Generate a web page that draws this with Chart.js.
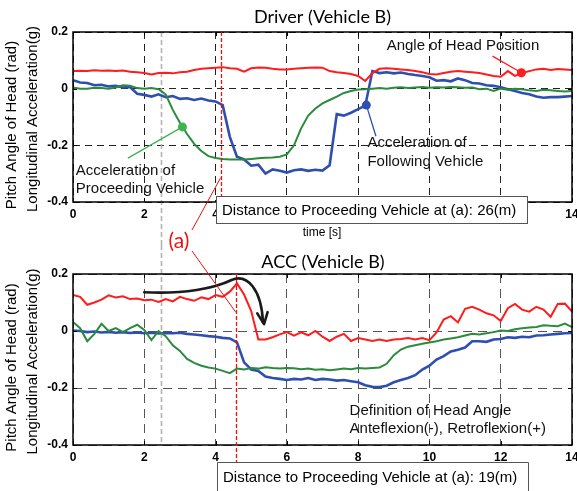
<!DOCTYPE html>
<html><head><meta charset="utf-8">
<script src="https://cdn.jsdelivr.net/npm/chart.js@4"></script>
<style>
html,body{margin:0;padding:0;background:#fff;}
#wrap{position:relative;width:577px;height:491px;overflow:hidden;background:#fff;}
canvas{position:absolute;left:0;}
</style></head><body>
<div id="wrap">
<canvas id="c1" width="577" height="245" style="top:0"></canvas>
<canvas id="c2" width="577" height="246" style="top:245px"></canvas>
<canvas id="ov" width="577" height="491" style="top:0;pointer-events:none"></canvas>
</div>
<script>
// ---- data ----
const time = [0,0.2,0.4,0.6,0.8,1,1.2,1.4,1.6,1.8,2,2.2,2.4,2.6,2.8,3,3.2,3.4,3.6,3.8,4,4.2,4.4,4.6,4.8,5,5.2,5.4,5.6,5.8,6,6.2,6.4,6.6,6.8,7,7.2,7.4,7.6,7.8,8,8.2,8.4,8.6,8.8,9,9.2,9.4,9.6,9.8,10,10.2,10.4,10.6,10.8,11,11.2,11.4,11.6,11.8,12,12.2,12.4,12.6,12.8,13,13.2,13.4,13.6,13.8,14];
const xTicks = [0,2,4,6,8,10,12,14];
const yTicks = [-0.4,-0.2,0,0.2];
const yTickLabels = ['-0.4','-0.2','0','0.2'];

// Driver (Vehicle B)
const driverHead = [0.062,0.063,0.062,0.065,0.063,0.064,0.062,0.064,0.060,0.058,0.055,0.050,0.055,0.056,0.054,0.058,0.060,0.066,0.070,0.072,0.074,0.076,0.072,0.070,0.060,0.072,0.075,0.074,0.070,0.068,0.068,0.070,0.072,0.074,0.075,0.074,0.062,0.058,0.055,0.052,0.045,0.027,0.055,0.070,0.072,0.070,0.068,0.066,0.062,0.058,0.052,0.050,0.055,0.060,0.062,0.060,0.058,0.055,0.050,0.045,0.042,0.062,0.045,0.055,0.062,0.068,0.070,0.066,0.069,0.068,0.066];
const driverProceeding = [0.004,0.000,0.000,0.003,0.002,0.000,0.004,0.012,0.010,0.002,0.000,0.002,-0.002,-0.020,-0.075,-0.120,-0.160,-0.195,-0.220,-0.238,-0.245,-0.248,-0.250,-0.250,-0.250,-0.248,-0.246,-0.244,-0.243,-0.240,-0.232,-0.200,-0.140,-0.095,-0.070,-0.052,-0.040,-0.028,-0.015,-0.008,-0.003,-0.002,0.000,0.002,0.000,0.003,0.005,0.002,0.004,0.006,0.003,0.005,0.004,0.006,0.005,0.003,0.004,-0.002,0.000,-0.008,0.000,-0.004,0.000,-0.002,-0.006,-0.008,-0.004,-0.006,-0.008,-0.010,-0.008];
const driverFollowing = [0.030,0.022,0.020,0.012,0.014,0.008,0.010,0.004,0.006,-0.018,-0.022,-0.028,-0.020,-0.030,-0.026,-0.036,-0.034,-0.040,-0.035,-0.042,-0.045,-0.058,-0.170,-0.240,-0.250,-0.272,-0.268,-0.300,-0.285,-0.290,-0.296,-0.288,-0.285,-0.290,-0.286,-0.289,-0.270,-0.090,-0.095,-0.085,-0.072,-0.060,0.062,0.055,0.058,0.054,0.057,0.052,0.048,0.045,0.040,0.028,0.030,0.026,0.036,0.030,0.020,0.018,0.012,0.010,0.005,-0.002,-0.008,-0.015,-0.020,-0.028,-0.032,-0.030,-0.030,-0.028,-0.026];

// ACC (Vehicle B)
const accHead = [0.126,0.120,0.092,0.100,0.110,0.125,0.118,0.122,0.112,0.114,0.108,0.110,0.102,0.112,0.104,0.120,0.112,0.106,0.118,0.112,0.126,0.120,0.138,0.167,0.128,0.070,-0.030,-0.030,-0.022,-0.012,-0.004,-0.016,-0.005,-0.015,0.000,-0.020,-0.035,-0.020,-0.010,-0.035,-0.025,-0.030,-0.035,-0.030,-0.035,-0.030,-0.028,-0.025,-0.030,-0.025,-0.032,-0.005,0.040,0.052,0.030,0.078,0.085,0.075,0.062,0.055,0.035,0.080,0.095,0.075,0.068,0.085,0.075,0.050,0.095,0.096,0.068];
const accProceeding = [0.032,0.010,-0.036,-0.010,0.025,0.000,0.010,-0.004,0.010,0.022,0.004,-0.032,0.000,-0.018,-0.050,-0.070,-0.098,-0.112,-0.122,-0.128,-0.132,-0.140,-0.148,-0.132,-0.135,-0.130,-0.132,-0.127,-0.130,-0.132,-0.130,-0.131,-0.134,-0.132,-0.136,-0.134,-0.138,-0.135,-0.132,-0.134,-0.130,-0.132,-0.130,-0.128,-0.115,-0.085,-0.065,-0.055,-0.050,-0.045,-0.040,-0.036,-0.030,-0.026,-0.022,-0.016,-0.010,-0.012,-0.008,-0.004,0.002,0.000,0.006,0.010,0.012,0.014,0.020,0.018,0.017,0.026,0.014];
const accFollowing = [0.002,0.000,-0.004,-0.002,-0.005,-0.003,-0.006,-0.004,-0.007,-0.005,-0.008,-0.006,-0.009,-0.007,-0.008,-0.006,-0.010,-0.012,-0.015,-0.018,-0.020,-0.024,-0.026,-0.040,-0.110,-0.135,-0.140,-0.160,-0.165,-0.168,-0.172,-0.168,-0.170,-0.165,-0.172,-0.168,-0.170,-0.174,-0.172,-0.176,-0.180,-0.190,-0.196,-0.197,-0.192,-0.180,-0.172,-0.165,-0.155,-0.135,-0.122,-0.100,-0.088,-0.072,-0.066,-0.058,-0.036,-0.036,-0.038,-0.030,-0.028,-0.022,-0.024,-0.020,-0.022,-0.016,-0.015,-0.012,-0.010,-0.008,-0.007];

const COL_RED = '#ff1c1c', COL_GREEN = '#2b8a3c', COL_BLUE = '#2f4fae', COL_GREEN_MK = '#3fb34f';
const GRAY_T = 2.46;
const FONT = '"Liberation Sans", Arial, sans-serif';
const TFONT = 'Lato, "Open Sans", sans-serif';

function pts(vals){ return vals.map((v,i)=>({x:time[i], y:v})); }

function text(ctx, s, x, y, font, color, align){
  ctx.font = font; ctx.fillStyle = color; ctx.textAlign = align || 'left'; ctx.textBaseline = 'middle';
  ctx.fillText(s, x, y);
}

function makePlugin(spec){
  return {
    id: 'deco_' + spec.name,
    beforeDatasetsDraw(chart){
      const {ctx, chartArea:a, scales:{x}} = chart;
      ctx.save();
      ctx.strokeStyle = '#b4b4b4'; ctx.lineWidth = 1.6; ctx.setLineDash([5,3]);
      const gx = Math.round(x.getPixelForValue(GRAY_T)) + 0.5;
      ctx.beginPath(); ctx.moveTo(gx, spec.grayTop(a, chart)); ctx.lineTo(gx, spec.grayBottom(a, chart)); ctx.stroke();
      ctx.restore();
    },
    afterDraw(chart){
      const {ctx, chartArea:a, scales:{x, y}} = chart;
      const P = (t, v) => [x.getPixelForValue(t), y.getPixelForValue(v)];
      ctx.save();
      // frame
      ctx.setLineDash([]);
      ctx.strokeStyle = '#000'; ctx.lineWidth = 1.5;
      ctx.strokeRect(a.left, a.top, a.right - a.left, a.bottom - a.top);
      // inward tick marks
      ctx.lineWidth = 1;
      xTicks.forEach(t => { const px = Math.round(x.getPixelForValue(t)) + 0.5;
        ctx.beginPath(); ctx.moveTo(px, a.bottom); ctx.lineTo(px, a.bottom - 4); ctx.moveTo(px, a.top); ctx.lineTo(px, a.top + 4); ctx.stroke(); });
      yTicks.forEach(v => { const py = Math.round(y.getPixelForValue(v)) + 0.5;
        ctx.beginPath(); ctx.moveTo(a.left, py); ctx.lineTo(a.left + 4, py); ctx.moveTo(a.right, py); ctx.lineTo(a.right - 4, py); ctx.stroke(); });
      // red dashed (a) line
      ctx.strokeStyle = '#ee1111'; ctx.lineWidth = 1.3; ctx.setLineDash([4,2]);
      const rx = Math.round(x.getPixelForValue(spec.redT)) + 0.5;
      ctx.beginPath(); ctx.moveTo(rx, a.top); ctx.lineTo(rx, spec.redBottom); ctx.stroke();
      ctx.setLineDash([]);
      // annotations
      spec.notes(ctx, P, a);
      // box
      const b = spec.box;
      ctx.fillStyle = '#fff'; ctx.fillRect(b.x, b.y, b.w, b.h);
      ctx.strokeStyle = '#555'; ctx.lineWidth = 1; ctx.strokeRect(b.x + 0.5, b.y + 0.5, b.w, b.h);
      text(ctx, b.text, b.x + 6, b.y + b.h/2 + 1, '15px ' + FONT, '#000');
      // title
      text(ctx, spec.title, spec.titleX, spec.titleY, '18px ' + TFONT, '#000', 'center');
      // y axis titles
      const cy = (a.top + a.bottom) / 2;
      ctx.save(); ctx.translate(12, cy + 8); ctx.rotate(-Math.PI/2);
      text(ctx, 'Pitch Angle of Head (rad)', 0, 0, '15px ' + FONT, '#000', 'center'); ctx.restore();
      ctx.save(); ctx.translate(33, cy + 2); ctx.rotate(-Math.PI/2);
      text(ctx, 'Longitudinal Acceleration(g)', 0, 0, '15px ' + FONT, '#000', 'center'); ctx.restore();
      if (spec.extra) spec.extra(ctx);
      ctx.restore();
    }
  };
}

function dot(ctx, p, r, col){ ctx.fillStyle = col; ctx.beginPath(); ctx.arc(p[0], p[1], r, 0, Math.PI*2); ctx.fill(); }
function seg(ctx, p, q, col, w){ ctx.strokeStyle = col; ctx.lineWidth = w; ctx.beginPath(); ctx.moveTo(p[0], p[1]); ctx.lineTo(q[0], q[1]); ctx.stroke(); }

function makeChart(id, series, spec, pad){
  return new Chart(document.getElementById(id), {
    type: 'line',
    data: { datasets: [
      { data: pts(series[0]), borderColor: COL_RED, borderWidth: 2, pointRadius: 0, tension: 0 },
      { data: pts(series[1]), borderColor: COL_GREEN, borderWidth: 2, pointRadius: 0, tension: 0 },
      { data: pts(series[2]), borderColor: COL_BLUE, borderWidth: 2.6, pointRadius: 0, tension: 0 }
    ]},
    options: {
      responsive: false, animation: false, devicePixelRatio: 1,
      layout: { padding: pad },
      plugins: { legend: { display: false }, tooltip: { enabled: false }, title: { display: false } },
      scales: {
        x: { type: 'linear', min: 0, max: 14,
             afterBuildTicks: s => { s.ticks = xTicks.map(v => ({value: v})); },
             afterFit: s => { s.height = 20; s.paddingLeft = 0; s.paddingRight = 0; },
             ticks: { color: '#000', font: { family: FONT, size: 12, weight: 'bold' }, padding: 5, maxRotation: 0,
                      callback: v => String(v) },
             grid: { color: spec.gridColor, lineWidth: 1, drawTicks: false },
             border: { display: false, dash: spec.dash } },
        y: { min: -0.4, max: 0.2,
             afterBuildTicks: s => { s.ticks = yTicks.map(v => ({value: v})); },
             afterFit: s => { s.width = 73; },
             ticks: { color: '#000', font: { family: FONT, size: 12, weight: 'bold' }, padding: 5,
                      callback: v => yTickLabels[yTicks.findIndex(t => Math.abs(t - v) < 1e-6)] },
             grid: { color: spec.gridColor, lineWidth: 1, drawTicks: false },
             border: { display: false, dash: spec.dash } }
      }
    },
    plugins: [makePlugin(spec)]
  });
}

const topSpec = {
  name: 'driver', gridColor: '#222', dash: [7,5], redT: 4.14, redBottom: 197,
  grayTop: a => a.top, grayBottom: (a, c) => c.height,
  title: 'Driver (Vehicle B)', titleX: 322.5, titleY: 17,
  box: { x: 216, y: 196, w: 311, h: 27, text: 'Distance to Proceeding Vehicle at (a): 26(m)' },
  notes(ctx, P){
    // green
    seg(ctx, P(3.07, -0.135), P(1.54, -0.245), COL_GREEN_MK, 1.3);
    dot(ctx, P(3.07, -0.135), 4.5, COL_GREEN_MK);
    const g1 = P(0.08, -0.291), g2 = P(0.08, -0.354);
    text(ctx, 'Acceleration of', g1[0], g1[1], '15px ' + FONT, '#111');
    text(ctx, 'Proceeding Vehicle', g2[0], g2[1], '15px ' + FONT, '#111');
    // blue
    seg(ctx, P(8.23, -0.058), P(8.5, -0.168), COL_BLUE, 1.3);
    dot(ctx, P(8.23, -0.058), 4.5, COL_BLUE);
    const b1 = P(8.26, -0.192), b2 = P(8.26, -0.259);
    text(ctx, 'Acceleration of', b1[0], b1[1], '15px ' + FONT, '#111');
    text(ctx, 'Following Vehicle', b2[0], b2[1], '15px ' + FONT, '#111');
    // red
    seg(ctx, P(11.77, 0.115), P(12.58, 0.056), COL_RED, 1.3);
    dot(ctx, P(12.58, 0.056), 4.5, COL_RED);
    const r1 = P(8.8, 0.151);
    text(ctx, 'Angle of Head Position', r1[0], r1[1], '15px ' + FONT, '#111');
  },
  extra(ctx){ text(ctx, 'time [s]', 322, 233, '12px ' + FONT, '#000', 'center'); }
};

const botSpec = {
  name: 'acc', gridColor: '#555', dash: [9,6], redT: 4.56, redBottom: 217,
  grayTop: () => 0, grayBottom: a => a.bottom,
  title: 'ACC (Vehicle B)', titleX: 323, titleY: 17,
  box: { x: 217, y: 217, w: 311, h: 30, text: 'Distance to Proceeding Vehicle at (a): 19(m)' },
  notes(ctx, P){
    // curved arrow
    const s = P(2.0, 0.136), c1 = P(3.13, 0.129), c2 = P(3.97, 0.15), m = P(4.45, 0.179),
          c3 = P(4.9, 0.203), c4 = P(5.29, 0.143), e = P(5.33, 0.03);
    ctx.strokeStyle = '#1a1a1a'; ctx.lineWidth = 2.6; ctx.lineJoin = 'round'; ctx.lineCap = 'round';
    ctx.beginPath(); ctx.moveTo(s[0], s[1]);
    ctx.bezierCurveTo(c1[0], c1[1], c2[0], c2[1], m[0], m[1]);
    ctx.bezierCurveTo(c3[0], c3[1], c4[0], c4[1], e[0], e[1]);
    ctx.stroke();
    const h1 = P(5.17, 0.062), tip = P(5.36, 0.024), h2 = P(5.46, 0.066);
    ctx.beginPath(); ctx.moveTo(h1[0], h1[1]); ctx.lineTo(tip[0], tip[1]); ctx.lineTo(h2[0], h2[1]); ctx.stroke();
    ctx.lineCap = 'butt';
    const d1 = P(7.76, -0.28), d2 = P(7.76, -0.343);
    text(ctx, 'Definition of Head Angle', d1[0], d1[1], '15px ' + FONT, '#111');
    text(ctx, 'Anteflexion(-), Retroflexion(+)', d2[0], d2[1], '15px ' + FONT, '#111');
  }
};

const chartTop = makeChart('c1', [driverHead, driverProceeding, driverFollowing], topSpec, {top: 32, bottom: 23, left: 0, right: 5});
const chartBot = makeChart('c2', [accHead, accProceeding, accFollowing], botSpec, {top: 29, bottom: 26, left: 0, right: 5});

// overlay: "(a)" label and its leader lines spanning both panels
(function(){
  const ctx = document.getElementById('ov').getContext('2d');
  const OFF = 245;
  const tA = [chartTop.scales.x.getPixelForValue(4.14), chartTop.scales.y.getPixelForValue(-0.315)];
  const bA = [chartBot.scales.x.getPixelForValue(4.56), chartBot.scales.y.getPixelForValue(0.067) + OFF];
  ctx.strokeStyle = '#ee1111'; ctx.lineWidth = 1;
  ctx.beginPath(); ctx.moveTo(tA[0], tA[1]); ctx.lineTo(192, 230); ctx.stroke();
  ctx.beginPath(); ctx.moveTo(192, 251); ctx.lineTo(bA[0], bA[1]); ctx.stroke();
  text(ctx, '(a)', 179, 241, '21px ' + TFONT, '#ee1111', 'center');
})();
</script>
</body></html>
